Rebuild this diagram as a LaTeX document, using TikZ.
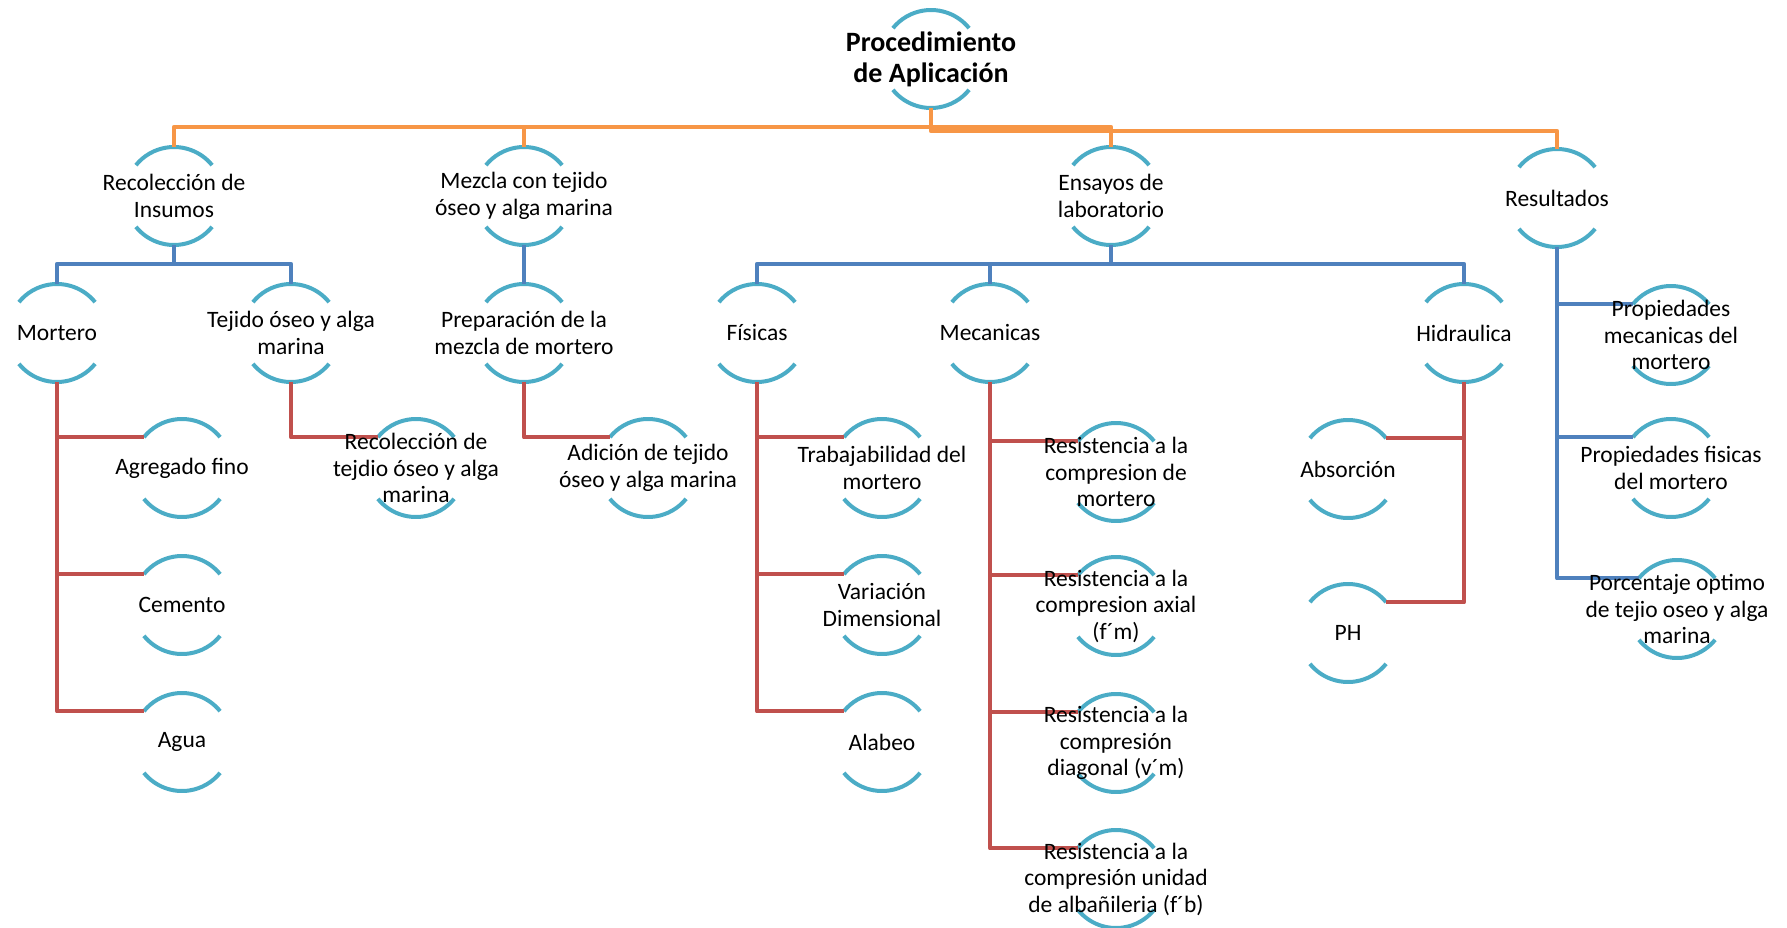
\documentclass[tikz,border=0pt]{standalone}
\usepackage{fontspec}
\setmainfont{Carlito}
\usetikzlibrary{calc}
\definecolor{arcoazul}{HTML}{4BACC6}
\definecolor{naranja}{HTML}{F79646}
\definecolor{azul}{HTML}{4F81BD}
\definecolor{rojo}{HTML}{C0504D}
\pgfdeclarelayer{fondo}
\pgfsetlayers{fondo,main}

\begin{document}
\begin{tikzpicture}[x=1pt,y=-1pt]
\tikzset{nodo/.style={align=center, inner sep=0pt, font=\fontsize{23.5}{26.5}\selectfont},
raiz/.style={align=center, inner sep=0pt, font=\fontsize{28}{31}\selectfont\bfseries},
arco/.style={draw=arcoazul, line width=4pt},
linea/.style={line width=4.5pt, line join=round}}
\useasboundingbox (0,0) rectangle (1787,928);
\node[raiz] (proc) at (931,59) {Procedimiento\\de Aplicación};
\node[nodo] (recol) at (174,196) {Recolección de\\Insumos};
\node[nodo] (mezcla) at (524,196) {Mezcla con tejido\\óseo y alga marina};
\node[nodo] (ensayos) at (1111,196) {Ensayos de\\laboratorio};
\node[nodo] (result) at (1557,198) {Resultados};
\node[nodo] (mortero) at (57,333) {Mortero};
\node[nodo] (tejido) at (291,333) {Tejido óseo y alga\\marina};
\node[nodo] (prepar) at (524,333) {Preparación de la\\mezcla de mortero};
\node[nodo] (fisicas) at (757,333) {Físicas};
\node[nodo] (mecan) at (990,333) {Mecanicas};
\node[nodo] (hidra) at (1464,333) {Hidraulica};
\node[nodo] (agreg) at (182,468) {Agregado fino};
\node[nodo] (cemento) at (182,605) {Cemento};
\node[nodo] (agua) at (182,742) {Agua};
\node[nodo] (recteji) at (416,468) {Recolección de\\tejdio óseo y alga\\marina};
\node[nodo] (adicion) at (648,468) {Adición de tejido\\óseo y alga marina};
\node[nodo] (trabaj) at (882,468) {Trabajabilidad del\\mortero};
\node[nodo] (variac) at (882,605) {Variación\\Dimensional};
\node[nodo] (alabeo) at (882,742) {Alabeo};
\node[nodo] (resis1) at (1116,472) {Resistencia a la\\compresion de\\mortero};
\node[nodo] (resis2) at (1116,606) {Resistencia a la\\compresion axial\\(f´m)};
\node[nodo] (resis3) at (1116,743) {Resistencia a la\\compresión\\diagonal (v´m)};
\node[nodo] (resis4) at (1116,879) {Resistencia a la\\compresión unidad\\de albañileria (f´b)};
\node[nodo] (absor) at (1348,469) {Absorción};
\node[nodo] (ph) at (1348,633) {PH};
\node[nodo] (propmec) at (1671,335) {Propiedades\\mecanicas del\\mortero};
\node[nodo] (propfis) at (1671,468) {Propiedades fisicas\\del mortero};
\node[nodo] (porcent) at (1677,609) {Porcentaje optimo\\de tejio oseo y alga\\marina};
\begin{pgfonlayer}{fondo}
% arcos de cada nodo
\foreach \n in {proc,recol,mezcla,ensayos,result,mortero,tejido,prepar,fisicas,mecan,hidra,
  agreg,cemento,agua,recteji,adicion,trabaj,variac,alabeo,resis1,resis2,resis3,resis4,
  absor,ph,propmec,propfis,porcent}{
  \draw[arco] ($(\n)+(39:49pt)$) arc[start angle=39, end angle=141, radius=49pt];
  \draw[arco] ($(\n)+(219:49pt)$) arc[start angle=219, end angle=321, radius=49pt];
}
% primer nivel
\draw[linea, naranja] ($(proc)+(0,49)$) -- ++(0,19) -| ($(recol)+(0,-49)$);
\draw[linea, naranja] ($(proc)+(0,49)$) -- ++(0,19) -| ($(mezcla)+(0,-49)$);
\draw[linea, naranja] ($(proc)+(0,49)$) -- ++(0,19) -| ($(ensayos)+(0,-49)$);
\draw[linea, naranja] ($(proc)+(0,49)$) -- ++(0,23) -| ($(result)+(0,-49)$);
% segundo nivel
\draw[linea, azul] ($(recol)+(0,49)$) -- ++(0,19) -| ($(mortero)+(0,-49)$);
\draw[linea, azul] ($(recol)+(0,49)$) -- ++(0,19) -| ($(tejido)+(0,-49)$);
\draw[linea, azul] ($(mezcla)+(0,49)$) -- ($(prepar)+(0,-49)$);
\draw[linea, azul] ($(ensayos)+(0,49)$) -- ++(0,19) -| ($(fisicas)+(0,-49)$);
\draw[linea, azul] ($(ensayos)+(0,49)$) -- ++(0,19) -| ($(mecan)+(0,-49)$);
\draw[linea, azul] ($(ensayos)+(0,49)$) -- ++(0,19) -| ($(hidra)+(0,-49)$);
\draw[linea, azul] ($(result)+(0,49)$) |- ($(propmec)+(141:49pt)$);
\draw[linea, azul] ($(result)+(0,49)$) |- ($(propfis)+(141:49pt)$);
\draw[linea, azul] ($(result)+(0,49)$) |- ($(porcent)+(141:49pt)$);
% tercer nivel
\draw[linea, rojo] ($(mortero)+(0,49)$) |- ($(agreg)+(141:49pt)$);
\draw[linea, rojo] ($(mortero)+(0,49)$) |- ($(cemento)+(141:49pt)$);
\draw[linea, rojo] ($(mortero)+(0,49)$) |- ($(agua)+(141:49pt)$);
\draw[linea, rojo] ($(tejido)+(0,49)$) |- ($(recteji)+(141:49pt)$);
\draw[linea, rojo] ($(prepar)+(0,49)$) |- ($(adicion)+(141:49pt)$);
\draw[linea, rojo] ($(fisicas)+(0,49)$) |- ($(trabaj)+(141:49pt)$);
\draw[linea, rojo] ($(fisicas)+(0,49)$) |- ($(variac)+(141:49pt)$);
\draw[linea, rojo] ($(fisicas)+(0,49)$) |- ($(alabeo)+(141:49pt)$);
\draw[linea, rojo] ($(mecan)+(0,49)$) |- ($(resis1)+(141:49pt)$);
\draw[linea, rojo] ($(mecan)+(0,49)$) |- ($(resis2)+(141:49pt)$);
\draw[linea, rojo] ($(mecan)+(0,49)$) |- ($(resis3)+(141:49pt)$);
\draw[linea, rojo] ($(mecan)+(0,49)$) |- ($(resis4)+(141:49pt)$);
\draw[linea, rojo] ($(hidra)+(0,49)$) |- ($(absor)+(39:49pt)$);
\draw[linea, rojo] ($(hidra)+(0,49)$) |- ($(ph)+(39:49pt)$);
\end{pgfonlayer}
\end{tikzpicture}
\end{document}
